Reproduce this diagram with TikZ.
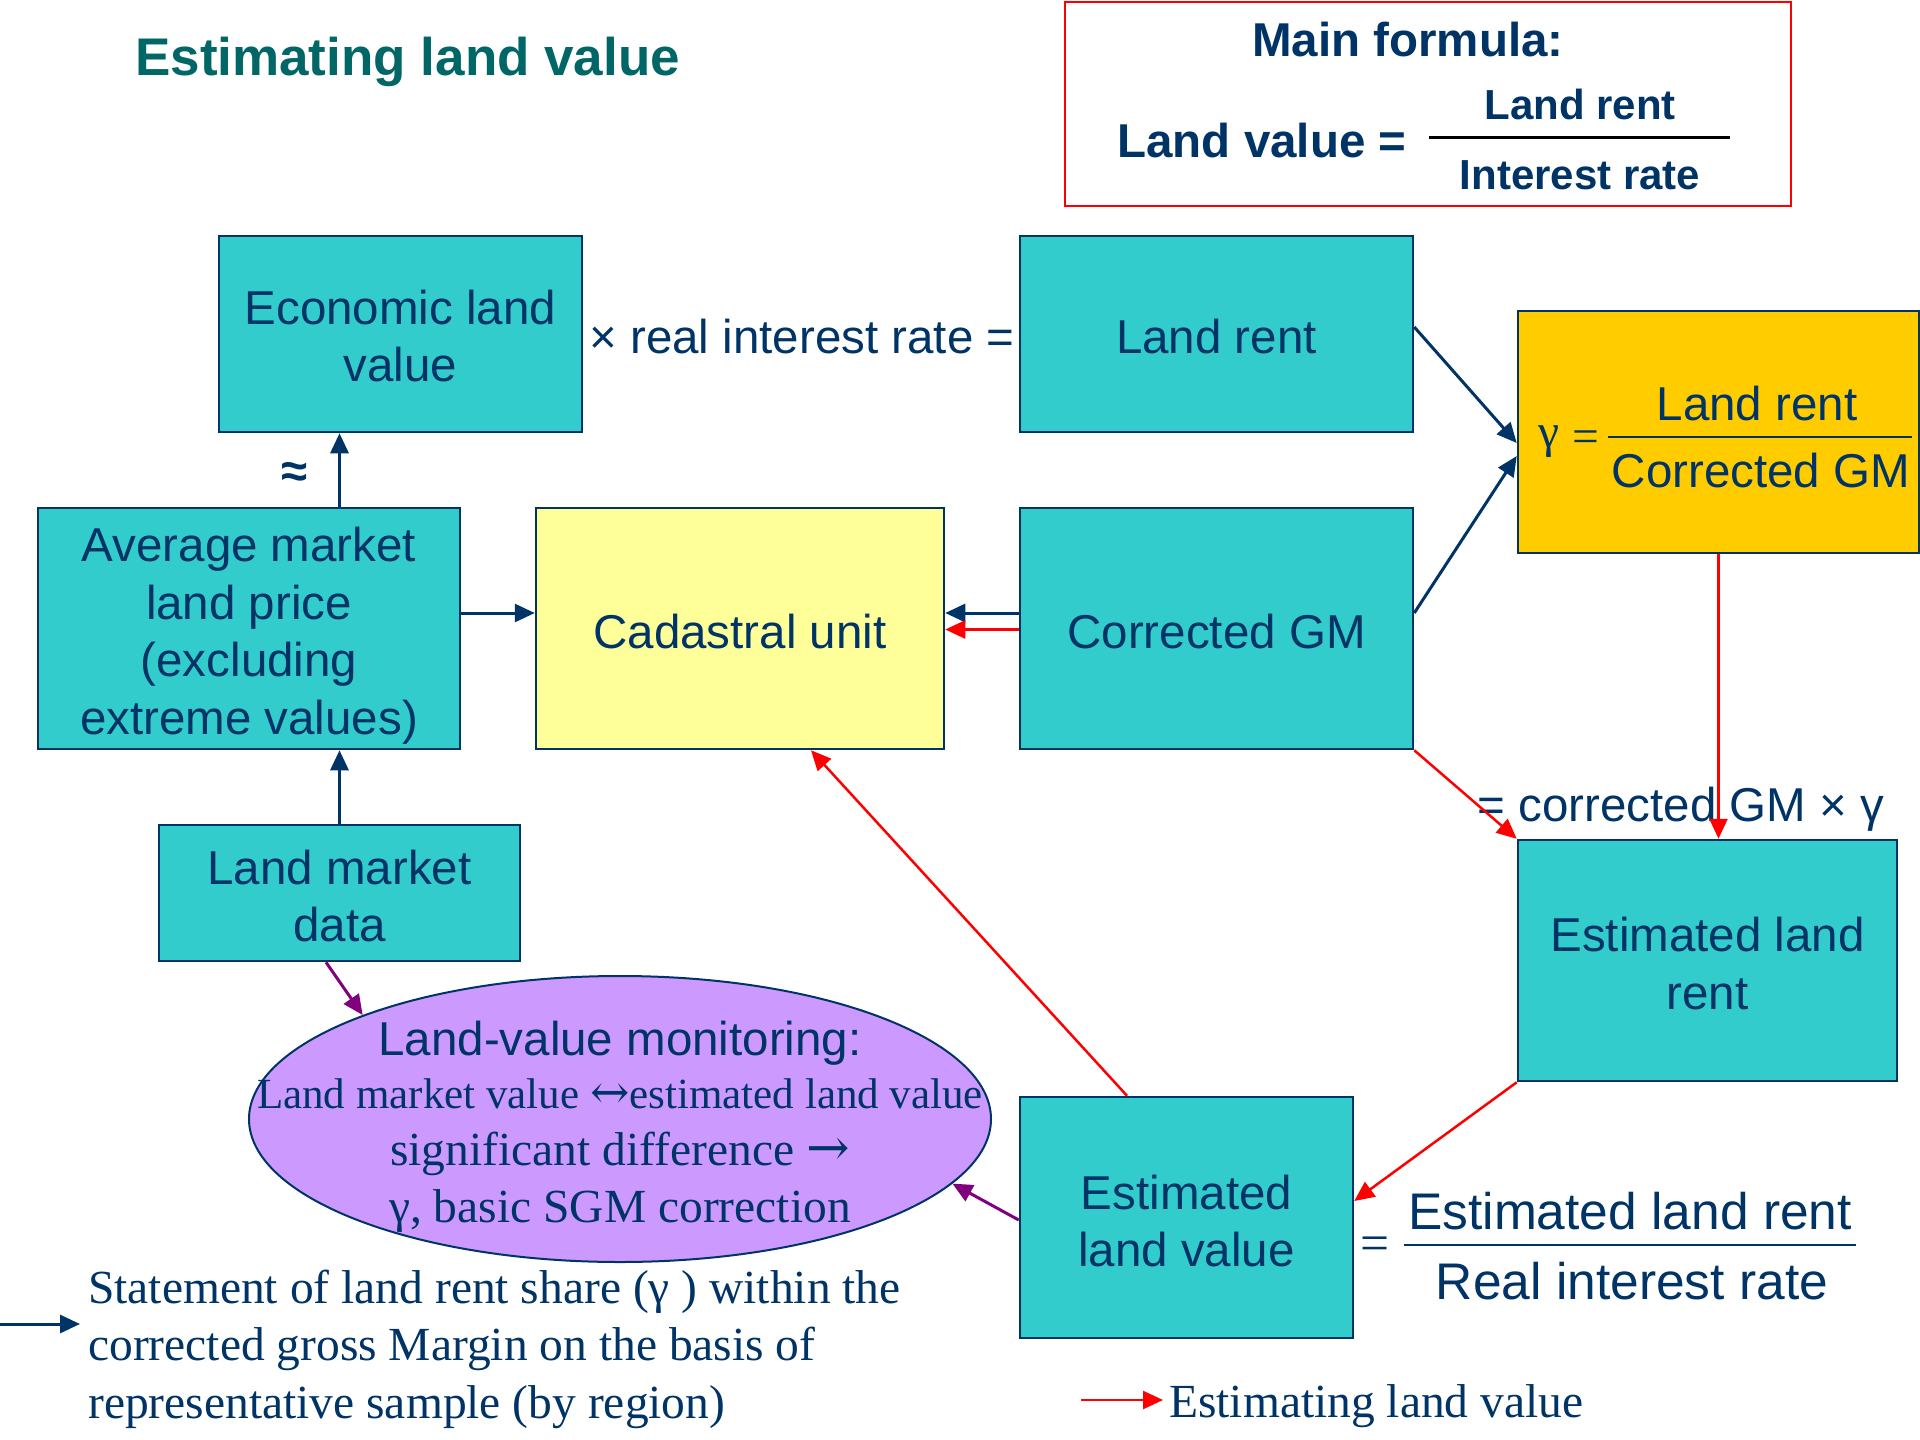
\documentclass[tikz,border=0pt]{standalone}
\usepackage{fontspec}
\setmainfont{Liberation Serif}
\setsansfont{Liberation Sans}
\newfontfamily\arrowfont{DejaVu Serif}
\usetikzlibrary{arrows.meta,shapes.geometric}
\definecolor{navy}{RGB}{0,51,102}
\definecolor{titleteal}{RGB}{0,102,102}
\definecolor{boxteal}{RGB}{51,204,204}
\definecolor{paleyellow}{RGB}{255,255,153}
\definecolor{gold}{RGB}{255,204,0}
\definecolor{lilac}{RGB}{204,153,255}
\definecolor{plum}{RGB}{128,0,128}
\newcommand{\fs}[2]{\fontsize{#1}{#2}\selectfont}
\newcommand{\bigarrow}[2]{{\arrowfont\fontsize{#1}{#1}\selectfont #2}}
\begin{document}
\begin{tikzpicture}[x=1pt,y=-1pt,
  box/.style={draw=navy, line width=2.5pt, fill=boxteal, inner sep=0pt},
  boxtxt/.style={text=navy, align=center, inner sep=0pt, font=\sffamily\fs{47.5}{57.5}},
  lbl/.style={text=navy, inner sep=0pt, font=\sffamily\fs{47.5}{57.5}},
  serlbl/.style={text=navy, inner sep=0pt, font=\rmfamily\fs{47.5}{57.5}},
  headtip/.style={-{Triangle[length=20pt,width=18pt]}},
  navyarrow/.style={headtip, draw=navy, line width=3pt},
  redarrow/.style={headtip, draw=red, line width=2.5pt},
  plumarrow/.style={headtip, draw=plum, line width=3pt},
  fracline/.style={draw=navy, line width=2pt}]
\useasboundingbox (0,0) rectangle (1920,1440);

% heading
\node[anchor=west, inner sep=0pt, text=titleteal, font=\sffamily\bfseries\fs{53}{60}]
  (title) at (135,62) {Estimating land value};

% main formula panel
\draw[red, line width=2pt] (1065,1.5) rectangle (1791,206);
\node[lbl, font=\sffamily\bfseries\fs{47.5}{57.5}] (mainf) at (1408,40) {Main formula:};
\node[lbl, font=\sffamily\bfseries\fs{47.5}{57.5}] (lvalue) at (1262,141) {Land value =};
\node[lbl, font=\sffamily\bfseries\fs{42}{50}] (fnum) at (1580,104) {Land rent};
\draw[black, line width=3pt] (1429,137) -- (1730,137);
\node[lbl, font=\sffamily\bfseries\fs{42}{50}] (fden) at (1580,175) {Interest rate};

% boxes
\node[box, minimum width=363pt, minimum height=196pt] (econ) at (400.5,334) {};
\node[box, minimum width=393pt, minimum height=196pt] (rent) at (1216.5,334) {};
\node[box, fill=gold, minimum width=401pt, minimum height=242pt] (gamma) at (1718.5,432) {};
\node[box, minimum width=422pt, minimum height=241pt] (avg) at (249,628.5) {};
\node[box, fill=paleyellow, minimum width=408pt, minimum height=241pt] (cad) at (740,628.5) {};
\node[box, minimum width=393pt, minimum height=241pt] (cgm) at (1216.5,628.5) {};
\node[box, minimum width=361pt, minimum height=136pt] (lmd) at (339.5,893) {};
\node[box, minimum width=379pt, minimum height=241pt] (erent) at (1707.5,960.5) {};
\node[box, minimum width=333pt, minimum height=241pt] (evalue) at (1186.5,1217.5) {};
\node[ellipse, draw=navy, line width=2pt, fill=lilac, minimum width=742pt, minimum height=286pt,
  inner sep=0pt] (ell) at (620,1119) {};

% box captions
\node[boxtxt] (econt) at ([yshift=-2pt]econ.center) {Economic land\\value};
\node[boxtxt] (rentt) at ([yshift=-3pt]rent.center) {Land rent};
\node[boxtxt] (avgt) at ([yshift=-7pt]avg.center) {Average market\\land price\\(excluding\\extreme values)};
\node[boxtxt] (cadt) at ([yshift=-3pt]cad.center) {Cadastral unit};
\node[boxtxt] (cgmt) at ([yshift=-3pt]cgm.center) {Corrected GM};
\node[boxtxt] (lmdt) at ([yshift=-3pt]lmd.center) {Land market\\data};
\node[boxtxt] (erentt) at ([yshift=-3pt]erent.center) {Estimated land\\rent};
\node[boxtxt] (evaluet) at ([yshift=-3.5pt]evalue.center) {Estimated\\land value};

% gamma formula
\node[serlbl] (gsym) at (1549,442) {γ};
\node[serlbl] (geq) at (1586,442) {=};
\node[lbl] (gnum) at (1757,404) {Land rent};
\draw[fracline] (1608,437) -- (1912,437);
\node[lbl] (gden) at (1761,471) {Corrected GM};

% estimated land value formula
\node[serlbl, font=\rmfamily\fs{51.5}{57.5}] (veq) at (1375,1249) {=};
\node[lbl, font=\sffamily\fs{51.5}{57.5}] (vnum) at (1630,1211) {Estimated land rent};
\draw[fracline] (1404,1245) -- (1856,1245);
\node[lbl, font=\sffamily\fs{51.5}{57.5}] (vden) at (1632,1281) {Real interest rate};

% labels along the links
\node[lbl] (mult) at (802,337) {× real interest rate =};
\node[lbl, font=\sffamily\bfseries\fs{47.5}{57.5}] (approx) at (295,475) {≈};
\node[lbl] (cgmg) at (1681,809.5) {= corrected GM × γ};

% monitoring ellipse text
\node[lbl] (m1) at (620,1043.5) {Land-value monitoring:};
\node[serlbl, font=\rmfamily\fs{43}{50}] (m2) at (620,1094)
  {Land market value \bigarrow{47}{↔}estimated land value};
\node[serlbl] (m3) at (620,1153.5) {significant difference \bigarrow{52}{→}};
\node[serlbl] (m4) at (620,1211) {γ, basic SGM correction};

% navy links
\draw[navyarrow] (avg.north -| lmd.north) -- (econ.south -| lmd.north);
\draw[navyarrow] (lmd.north) -- (avg.south -| lmd.north);
\draw[navyarrow] ([yshift=15.5pt]avg.east) -- ([yshift=15.5pt]cad.west);
\draw[navyarrow] ([yshift=15.5pt]cgm.west) -- ([yshift=15.5pt]cad.east);
\draw[navyarrow] ([yshift=7pt]rent.east) -- ([yshift=-11pt]gamma.west);
\draw[navyarrow] ([yshift=15.5pt]cgm.east) -- ([yshift=-24pt]gamma.west);

% red links
\draw[redarrow] ([yshift=-1pt]cgm.west) -- ([yshift=-1pt]cad.east);
\draw[redarrow] (gamma.south) -- (gamma.south |- erent.north);
\draw[redarrow] (cgm.south east) -- (erent.north west);
\draw[redarrow] (erent.south west) -- ([yshift=16.5pt]evalue.east);
\draw[redarrow] ([xshift=-59.5pt]evalue.north) -- ([xshift=71pt]cad.south);

% monitoring links
\draw[plumarrow] ([xshift=-13.5pt]lmd.south) -- (ell.158);
\draw[plumarrow] ([yshift=-2.5pt]evalue.west) -- (ell.-11);

% legend
\coordinate (k1a) at (0,1324);
\coordinate (k1b) at (80,1324);
\draw[navyarrow] (k1a) -- (k1b);
\node[serlbl, anchor=west, align=left] (k1t) at (88,1349)
  {Statement of land rent share (γ ) within the\\corrected gross Margin on the basis of\\representative sample (by region)};
\coordinate (k2a) at (1081,1400);
\coordinate (k2b) at (1163,1400);
\draw[redarrow] (k2a) -- (k2b);
\node[serlbl, anchor=west] (k2t) at (1169,1406.5) {Estimating land value};
\end{tikzpicture}
\end{document}
